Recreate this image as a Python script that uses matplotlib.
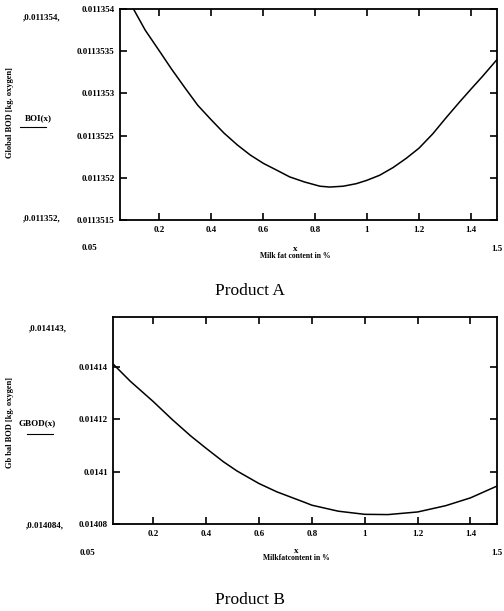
import matplotlib.pyplot as plt
from matplotlib.ticker import FixedLocator, FixedFormatter

plt.rcParams['font.family'] = ['Liberation Serif', 'DejaVu Serif']

# Product A
xa = [0.102, 0.147, 0.2, 0.248, 0.299, 0.349, 0.4, 0.45, 0.501, 0.551, 0.602,
      0.653, 0.703, 0.76, 0.819, 0.857, 0.909, 0.959, 1.0, 1.049, 1.1, 1.151,
      1.2, 1.253, 1.304, 1.354, 1.4, 1.444, 1.5]
bod_a = [0.011354, 0.01135375, 0.01135351, 0.01135329, 0.01135307, 0.01135286,
         0.01135269, 0.01135253, 0.01135239, 0.01135227, 0.01135217, 0.01135209,
         0.01135201, 0.01135195, 0.0113519, 0.01135189, 0.0113519, 0.01135193,
         0.01135197, 0.01135203, 0.01135212, 0.01135223, 0.01135235, 0.01135252,
         0.01135271, 0.01135289, 0.01135305, 0.0113532, 0.0113534]
yticks_a = [0.0113515, 0.011352, 0.0113525, 0.011353, 0.0113535, 0.011354]
ylabels_a = ["0.0113515", "0.011352", "0.0113525", "0.011353", "0.0113535", "0.011354"]

# Product B
xb = [0.051, 0.114, 0.2, 0.272, 0.341, 0.4, 0.466, 0.517, 0.6, 0.668, 0.775,
      0.8, 0.9, 1.0, 1.088, 1.2, 1.306, 1.4, 1.5]
bod_b = [0.014141, 0.0141346, 0.0141269, 0.01412, 0.0141138, 0.014109, 0.0141038,
         0.0141003, 0.0140955, 0.0140923, 0.0140882, 0.0140872, 0.0140849,
         0.0140837, 0.0140836, 0.0140846, 0.014087, 0.01409, 0.0140945]
yticks_b = [0.01408, 0.0141, 0.01412, 0.01414]
ylabels_b = ["0.01408", "0.0141", "0.01412", "0.01414"]

xticks = [0.2, 0.4, 0.6, 0.8, 1.0, 1.2, 1.4]
xlabels = ["0.2", "0.4", "0.6", "0.8", "1", "1.2", "1.4"]

fig = plt.figure(figsize=(5.04, 6.11), dpi=100)
ax1 = fig.add_axes([0.238, 0.640, 0.748, 0.3453])
ax2 = fig.add_axes([0.225, 0.1424, 0.761, 0.3388])


def style(ax, yt, yl, ylim):
    ax.set_xlim(0.05, 1.5)
    ax.set_ylim(*ylim)
    ax.xaxis.set_major_locator(FixedLocator(xticks))
    ax.xaxis.set_major_formatter(FixedFormatter(xlabels))
    ax.yaxis.set_major_locator(FixedLocator(yt))
    ax.yaxis.set_major_formatter(FixedFormatter(yl))
    ax.tick_params(direction='in', length=5, width=1.2, top=True, right=True,
                   labelsize=6.5, pad=4, colors='black')
    for lab in ax.get_xticklabels() + ax.get_yticklabels():
        lab.set_fontweight('bold')
    for s in ax.spines.values():
        s.set_linewidth(1.3)


ax1.plot(xa, bod_a, color='black', lw=1.1)
style(ax1, yticks_a, ylabels_a, (0.0113515, 0.011354))

ax2.plot(xb, bod_b, color='black', lw=1.1)
style(ax2, yticks_b, ylabels_b, (0.01408, 0.0141592))

tk = dict(fontsize=6.5, fontweight='bold', ha='center', va='center')

def px(x, y):
    return x / 504, 1 - y / 611

# top panel texts
fig.text(*px(42, 17), ",0.011354,", **tk)
fig.text(*px(42, 218), ",0.011352,", **tk)
fig.text(*px(90, 248), "0.05", **tk)
fig.text(*px(497, 249), "1.5", **tk)
fig.text(*px(295, 249), "x", **tk)
fig.text(*px(295, 256), "Milk fat content in %", fontsize=5.5, fontweight='bold',
         ha='center', va='center')
fig.text(*px(10, 113), "Global BOD [kg. oxygen]", fontsize=6, fontweight='bold',
         rotation=90, ha='center', va='center')
fig.text(*px(38, 118), "BOI(x)", fontsize=6.5, fontweight='bold', ha='center', va='center')
fig.add_artist(plt.Line2D([20 / 504, 46 / 504], [1 - 127 / 611] * 2, color='black', lw=0.8))
fig.text(*px(250, 291), "Product A", fontsize=12.5, ha='center', va='center')

# bottom panel texts
fig.text(*px(48, 328), ",0.014143,", **tk)
fig.text(*px(45, 525), ",0.014084,", **tk)
fig.text(*px(88, 553), "0.05", **tk)
fig.text(*px(497, 553), "1.5", **tk)
fig.text(*px(296, 551), "x", **tk)
fig.text(*px(296, 558), "Milkfatcontent in %", fontsize=5.5, fontweight='bold',
         ha='center', va='center')
fig.text(*px(10, 423), "Gb bal BOD [kg. oxygen]", fontsize=6, fontweight='bold',
         rotation=90, ha='center', va='center')
fig.text(*px(37, 423), "GBOD(x)", fontsize=6.5, fontweight='bold', ha='center', va='center')
fig.add_artist(plt.Line2D([27 / 504, 53 / 504], [1 - 434 / 611] * 2, color='black', lw=0.8))
fig.text(*px(250, 600), "Product B", fontsize=12.5, ha='center', va='center')

fig.savefig("out.png", dpi=100)
